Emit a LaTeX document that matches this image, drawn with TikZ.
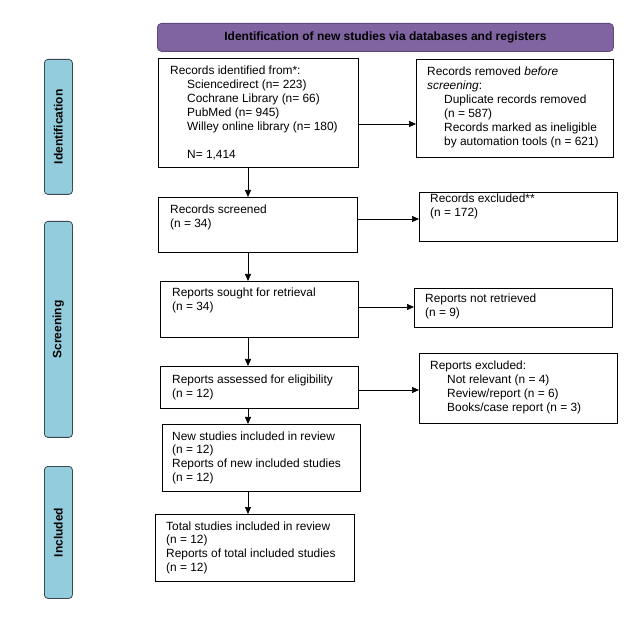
\documentclass[tikz,border=0pt]{standalone}
\usepackage{fontspec}
\setmainfont{Liberation Sans}
\usetikzlibrary{arrows.meta}
\definecolor{barpurple}{HTML}{8064A2}
\definecolor{barpurpleedge}{HTML}{5E4A7C}
\definecolor{barblue}{HTML}{93CDDD}
\definecolor{barblueedge}{HTML}{3A4A55}
\newcommand\fs{\fontsize{11.9}{13.9}\selectfont}
\newcommand\ind{\hspace*{17pt}}
\newcommand\tlines[1]{\parbox[t]{240pt}{\raggedright\fs #1}}
\tikzset{
  box/.style={draw=black, line width=0.8pt, anchor=north west, inner sep=0pt},
  txt/.style={anchor=base west, inner sep=0pt},
  phase/.style={draw=barblueedge, fill=barblue, line width=0.8pt, rounded corners=3.5pt, anchor=north west, inner sep=0pt, minimum width=28pt},
  phasetxt/.style={rotate=90, font=\fontsize{12}{14}\selectfont\bfseries, inner sep=0pt},
  arr/.style={line width=0.7pt, -{Triangle[length=7pt,width=6pt]}}
}
\begin{document}
\begin{tikzpicture}[x=1pt,y=-1pt]
\useasboundingbox (0,0) rectangle (627,620);
% title bar
\node[draw=barpurpleedge, fill=barpurple, line width=0.8pt, rounded corners=4pt, anchor=north west, inner sep=0pt, minimum width=456pt, minimum height=28pt] (title) at (157,23) {};
\node[font=\fontsize{12}{14}\selectfont\bfseries, inner sep=0pt] (titlet) at (title.center) {Identification of new studies via databases and registers};
% phase bars
\node[phase, minimum height=135pt] (pid) at (44,59) {};
\node[phasetxt] (pidt) at (pid.center) {Identification};
\node[phase, minimum height=216pt] (psc) at (44,221) {};
\node[phasetxt] (psct) at (psc.center) {Screening};
\node[phase, minimum height=132pt] (pin) at (44,466) {};
\node[phasetxt] (pint) at (pin.center) {Included};
% boxes
\node[box, minimum width=200pt, minimum height=109pt] (b1) at (158,58) {};
\node[txt] (b1t) at (170,75) {\tlines{Records identified from*:\\ \ind Sciencedirect (n= 223)\\ \ind Cochrane Library (n= 66)\\ \ind PubMed (n= 945)\\ \ind Willey online library (n= 180)\\[13.9pt] \ind N= 1,414}};
\node[box, minimum width=197pt, minimum height=98pt] (r1) at (416,59) {};
\node[txt] (r1t) at (427,76) {\tlines{Records removed \textit{before}\\ \textit{screening}:\\ \ind Duplicate records removed\\ \ind (n = 587)\\ \ind Records marked as ineligible\\ \ind by automation tools (n = 621)}};
\node[box, minimum width=199pt, minimum height=55pt] (b2) at (158,197) {};
\node[txt] (b2t) at (170,214) {\tlines{Records screened\\ (n = 34)}};
\node[box, minimum width=198pt, minimum height=49pt] (r2) at (419,192) {};
\node[txt] (r2t) at (430,203) {\tlines{Records excluded**\\ (n = 172)}};
\node[box, minimum width=198pt, minimum height=56pt] (b3) at (160,281) {};
\node[txt] (b3t) at (172,297) {\tlines{Reports sought for retrieval\\ (n = 34)}};
\node[box, minimum width=198pt, minimum height=39pt] (r3) at (414,288) {};
\node[txt] (r3t) at (425,303) {\tlines{Reports not retrieved\\ (n = 9)}};
\node[box, minimum width=198pt, minimum height=42pt] (b4) at (160,366) {};
\node[txt] (b4t) at (172,384) {\tlines{Reports assessed for eligibility\\ (n = 12)}};
\node[box, minimum width=198pt, minimum height=70pt] (r4) at (419,353) {};
\node[txt] (r4t) at (430,370) {\tlines{Reports excluded:\\ \ind Not relevant (n = 4)\\ \ind Review/report (n = 6)\\ \ind Books/case report (n = 3)}};
\node[box, minimum width=198pt, minimum height=67pt] (b5) at (162,424) {};
\node[txt] (b5t) at (172,440) {\tlines{New studies included in review\\ (n = 12)\\ Reports of new included studies\\ (n = 12)}};
\node[box, minimum width=199pt, minimum height=67pt] (b6) at (155,514) {};
\node[txt] (b6t) at (166,530) {\tlines{Total studies included in review\\ (n = 12)\\ Reports of total included studies\\ (n = 12)}};
% connectors
\coordinate (ax) at (248,0);
\coordinate (y1) at (0,124);
\coordinate (y2) at (0,219);
\coordinate (y3) at (0,307);
\coordinate (y4) at (0,390);
\draw[arr] (b1.south -| ax) -- (b2.north -| ax);
\draw[arr] (b2.south -| ax) -- (b3.north -| ax);
\draw[arr] (b3.south -| ax) -- (b4.north -| ax);
\draw[arr] (b4.south -| ax) -- (b5.north -| ax);
\draw[arr] (b5.south -| ax) -- (b6.north -| ax);
\draw[arr] (b1.east |- y1) -- (r1.west |- y1);
\draw[arr] (b2.east |- y2) -- (r2.west |- y2);
\draw[arr] (b3.east |- y3) -- (r3.west |- y3);
\draw[arr] (b4.east |- y4) -- (r4.west |- y4);
\end{tikzpicture}
\end{document}
